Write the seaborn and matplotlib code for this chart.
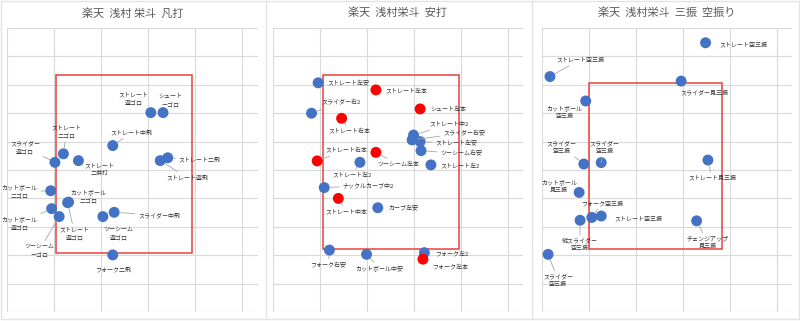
import matplotlib
matplotlib.use('Agg')
import matplotlib.pyplot as plt
import seaborn as sns
import pandas as pd
from matplotlib.patches import Rectangle
from matplotlib.lines import Line2D

# ---------------- data ----------------
titles = ['楽天  浅村 栄斗  凡打', '楽天  浅村栄斗  安打', '楽天  浅村栄斗  三振  空振り']

# panel 1: 凡打
p1_labels = ['ストレート\n遊ゴロ', 'シュート\nーゴロ', 'ストレート中飛', 'ストレート\n二ゴロ',
             'スライダー\n遊ゴロ', 'ストレート\n二併打', 'ストレート二飛', 'ストレート遊飛',
             'カットボール\n二ゴロ', 'カットボール\n二ゴロ', 'ストレート\n遊ゴロ', 'カットボール\n遊ゴロ',
             'ツーシーム\nーゴロ', 'ツーシーム\n遊ゴロ', 'スライダー中飛', 'フォーク二飛']
p1_x = [3.06, 3.32, 2.25, 1.20, 1.02, 1.52, 3.42, 3.26, 0.93, 1.31, 1.29, 0.95, 1.11, 2.04, 2.28, 2.25]
p1_y = [7.02, 7.02, 5.86, 5.57, 5.27, 5.33, 5.43, 5.33, 4.27, 3.87, 3.85, 3.64, 3.36, 3.36, 3.51, 2.01]
p1_result = ['凡打'] * len(p1_x)

# panel 2: 安打 (本 = 本塁打)
p2_labels = ['ストレート左安', 'ストレート左本', 'スライダー右2', 'シュート左本', 'ストレート右本',
             'ストレート中2', 'スライダー右安', 'ストレート左安', 'ツーシーム右安', 'ストレート右本',
             'ツーシーム左本', 'ストレート左2', 'ストレート左2', 'ナックルカーブ中2', 'ストレート中本',
             'カーブ左安', 'フォーク右安', 'カットボール中安', 'フォーク左2', 'フォーク左本']
p2_x = [0.96, 2.19, 0.82, 3.13, 1.46, 2.99, 2.96, 3.13, 3.15, 0.94,
        2.19, 1.85, 3.36, 1.09, 1.39, 2.23, 1.20, 1.99, 3.22, 3.19]
p2_y = [8.07, 7.82, 7.00, 7.15, 6.82, 6.23, 6.06, 6.00, 5.68, 5.32,
        5.62, 5.27, 5.18, 4.38, 4.00, 3.67, 2.18, 2.03, 2.09, 1.86]
p2_result = ['安打', '本塁打', '安打', '本塁打', '本塁打', '安打', '安打', '安打', '安打', '本塁打',
             '本塁打', '安打', '安打', '安打', '本塁打', '安打', '安打', '安打', '安打', '本塁打']

# panel 3: 三振
p3_labels = ['ストレート空三振', 'ストレート空三振', 'スライダー見三振', 'カットボール\n空三振',
             'スライダー\n空三振', 'スライダー\n空三振', 'ストレート見三振', 'カットボール\n見三振',
             'フォーク空三振', 'ストレート空三振', '縦スライダー\n空三振', 'チェンジアップ\n見三振',
             'スライダー\n空三振']
p3_x = [3.48, 0.17, 2.96, 0.93, 0.89, 1.26, 3.53, 0.79, 1.06, 1.26, 0.81, 3.29, 0.13]
p3_y = [9.48, 8.29, 8.13, 7.43, 5.21, 5.26, 5.35, 4.21, 3.33, 3.38, 3.23, 3.21, 2.03]
p3_result = ['三振'] * len(p3_x)

# strike zone boxes (x0, x1, y0, y1) in axis units
zones = [(1.04, 3.94, 2.08, 8.35), (1.06, 3.96, 2.22, 8.35), (1.00, 3.83, 2.22, 8.06)]

# ---------------- layout (label offsets in pixels, leader flags) ----------------
p1_off = [(-17, -14), (7, -12), (19, -13), (3, -22), (-30, -15), (21, 9), (32, 2), (27, 17),
          (-31, 1), (20, -6), (7, 31), (-32, 15), (-20, 34), (16, 17), (45, 3), (0, 15)]
p1_lead = [0, 0, 1, 1, 1, 0, 1, 1, 1, 0, 1, 1, 1, 0, 1, 0]
p2_off = [(30, 1), (30, 1), (30, -11), (28, 0), (8, 13), (36, -11), (52, -7), (36, 2), (40, 3),
          (29, -11), (22, 12), (-8, 13), (29, 1), (44, -2), (8, 13), (26, 1), (-1, 15), (13, 14),
          (27, 1), (27, 7)]
p2_lead = [0, 0, 1, 0, 1, 1, 1, 1, 1, 1, 1, 1, 0, 1, 1, 0, 1, 1, 0, 1]
p3_off = [(38, 2), (30, -17), (23, 11), (-21, 11), (-22, -17), (3, -15), (4, 18), (-20, -6),
          (10, -14), (37, 3), (0, 24), (11, 22), (10, 26)]
p3_lead = [0, 1, 0, 0, 1, 1, 1, 0, 1, 0, 1, 1, 1]

panels = [
    (p1_labels, p1_x, p1_y, p1_result, p1_off, p1_lead),
    (p2_labels, p2_x, p2_y, p2_result, p2_off, p2_lead),
    (p3_labels, p3_x, p3_y, p3_result, p3_off, p3_lead),
]
palette = {'凡打': '#4472C4', '安打': '#4472C4', '三振': '#4472C4', '本塁打': '#FF0000'}

sns.set_theme(style='white')
plt.rcParams['font.family'] = ['Noto Sans CJK JP', 'DejaVu Sans']

W, H = 800, 321
fig = plt.figure(figsize=(W / 100, H / 100), dpi=100)
fig.patch.set_facecolor('white')

ax_left = [7, 273, 542]
ax_width = [251, 250, 250]
ax_top, ax_bottom = 28, 312

for i, (labels, xs, ys, res, offs, leads) in enumerate(panels):
    ax = fig.add_axes([ax_left[i] / W, (H - ax_bottom) / H, ax_width[i] / W, (ax_bottom - ax_top) / H])
    ax.set_xlim(0, ax_width[i] / 47)
    ax.set_ylim(0, 10)
    ax.set_xticks(range(0, 6))
    ax.set_yticks(range(0, 11))
    ax.tick_params(length=0, labelleft=False, labelbottom=False)
    ax.grid(True, color='#d9d9d9', lw=0.8)
    ax.set_axisbelow(True)
    for s in ax.spines.values():
        s.set_visible(False)

    z = zones[i]
    ax.add_patch(Rectangle((z[0], z[2]), z[1] - z[0], z[3] - z[2], fill=False,
                           edgecolor='#E8413C', lw=1.1, zorder=2))

    df = pd.DataFrame({'x': xs, 'y': ys, 'result': res, 'label': labels})
    sns.scatterplot(data=df, x='x', y='y', hue='result', palette=palette, s=62,
                    linewidth=0, legend=False, ax=ax, zorder=3)
    ax.set_xlabel('')
    ax.set_ylabel('')

    for lab, x, y, (dx, dy), ld in zip(labels, xs, ys, offs, leads):
        kw = {}
        if ld:
            kw['arrowprops'] = dict(arrowstyle='-', color='#a6a6a6', lw=0.6,
                                    shrinkA=0, shrinkB=4)
        ax.annotate(lab, (x, y), xytext=(dx, -dy), textcoords='offset pixels',
                    ha='center', va='center', fontsize=4.3, color='#333333',
                    linespacing=1.6, multialignment='center', zorder=4,
                    annotation_clip=False, **kw)

    cx = ax_left[i] + ax_width[i] / 2
    fig.text(cx / W, 1 - 13 / H, titles[i], ha='center', va='center',
             fontsize=8, color='#595959')

# chart area borders
for xb in [1, 266, 532, 799]:
    fig.add_artist(Line2D([xb / W, xb / W], [2 / H, 1 - 1 / H], transform=fig.transFigure,
                          color='#e3e3e3', lw=1))
for yb in [1, 319]:
    fig.add_artist(Line2D([1 / W, 799 / W], [1 - yb / H, 1 - yb / H], transform=fig.transFigure,
                          color='#e3e3e3', lw=1))

fig.savefig('out.png', dpi=100, facecolor='white')
